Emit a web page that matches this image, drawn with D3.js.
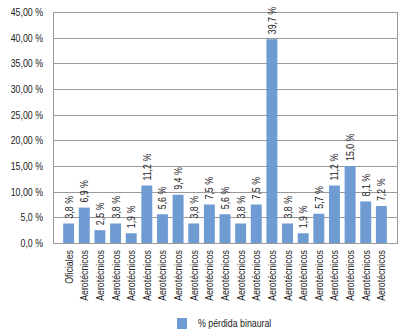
<!DOCTYPE html>
<html>
<head>
<meta charset="utf-8">
<script src="https://cdn.jsdelivr.net/npm/d3@7"></script>
<style>
  body { margin: 0; background: #fff; }
  text { font-family: "Liberation Sans Narrow", "Arial Narrow", "Liberation Sans", sans-serif; fill: #222; }
</style>
</head>
<body>
<div id="chart"></div>
<script>
// categories (x axis)
const categories = ["Oficiales"].concat(d3.range(20).map(() => "Aerotécnicos"));

// % pérdida binaural per person
const values = [3.8, 6.9, 2.5, 3.8, 1.9, 11.2, 5.6, 9.4, 3.8, 7.5, 5.6,
  3.8, 7.5, 39.7, 3.8, 1.9, 5.7, 11.2, 15.0, 8.1, 7.2];

// y tick values and labels as printed
const yTicks = [0, 5, 10, 15, 20, 25, 30, 35, 40, 45];
const yTickLabels = ["0,0 %", "5,0 %", "10,00 %", "15,00 %", "20,00 %", "25,00 %",
  "30,00 %", "35,00 %", "40,00 %", "45,00 %"];

const seriesName = "% pérdida binaural";

const width = 404,
  height = 335,
  padLeft = 53,
  padRight = 7,
  padTop = 12,
  padBtm = 92;

const barColor = "#6f9bd3";
const gridColor = "#9a9a9a";
// no narrow font installed: squeeze text horizontally
const narrow = 0.8;

const svg = d3.select("#chart")
  .append("svg")
  .attr("width", width)
  .attr("height", height);

const data = categories.map((c, i) => ({ id: i, cat: c, value: values[i] }));

const xScale = d3.scaleBand()
  .domain(data.map(d => d.id))
  .range([padLeft, width - padRight])
  .paddingInner(0.3)
  .paddingOuter(0.65);

const yScale = d3.scaleLinear()
  .domain([0, 45])
  .range([height - padBtm, padTop]);

// gridlines
svg.append("g")
  .attr("class", "grid")
  .selectAll("line")
  .data(yTicks)
  .enter()
  .append("line")
  .attr("x1", padLeft)
  .attr("x2", width - padRight)
  .attr("y1", d => Math.round(yScale(d)) + 0.5)
  .attr("y2", d => Math.round(yScale(d)) + 0.5)
  .style("stroke", gridColor);

// frame
svg.append("rect")
  .attr("x", padLeft + 0.5)
  .attr("y", Math.round(yScale(45)) + 0.5)
  .attr("width", width - padRight - padLeft)
  .attr("height", Math.round(yScale(0)) - Math.round(yScale(45)))
  .style("fill", "none")
  .style("stroke", gridColor);

// y axis labels
svg.append("g")
  .attr("class", "y axis")
  .selectAll("text")
  .data(yTicks)
  .enter()
  .append("text")
  .attr("transform", d => "translate(" + (padLeft - 10) + "," + yScale(d) + ") scale(" + narrow + ",1)")
  .attr("dy", "0.35em")
  .attr("text-anchor", "end")
  .style("font-size", "11px")
  .text((d, i) => yTickLabels[i]);

// bars
svg.append("g")
  .attr("class", "bars")
  .selectAll("rect")
  .data(data)
  .enter()
  .append("rect")
  .attr("x", d => xScale(d.id))
  .attr("y", d => yScale(d.value))
  .attr("width", xScale.bandwidth())
  .attr("height", d => yScale(0) - yScale(d.value))
  .style("fill", barColor);

// value labels, rotated
svg.append("g")
  .attr("class", "values")
  .selectAll("text")
  .data(data)
  .enter()
  .append("text")
  .attr("transform", d => "translate(" + (xScale(d.id) + xScale.bandwidth() / 2 + 4) + "," +
    (yScale(d.value) - 5) + ") rotate(-90) scale(" + narrow + ",1)")
  .attr("text-anchor", "start")
  .style("font-size", "11px")
  .text(d => d3.format(".1f")(d.value).replace(".", ",") + " %");

// category labels, rotated
svg.append("g")
  .attr("class", "x axis")
  .selectAll("text")
  .data(data)
  .enter()
  .append("text")
  .attr("transform", d => "translate(" + (xScale(d.id) + xScale.bandwidth() / 2 + 4) + "," +
    (yScale(0) + 7) + ") rotate(-90) scale(" + narrow + ",1)")
  .attr("text-anchor", "end")
  .style("font-size", "11px")
  .text(d => d.cat);

// legend
const legend = svg.append("g")
  .attr("class", "legend")
  .attr("transform", "translate(177,318)");
legend.append("rect")
  .attr("width", 10)
  .attr("height", 11)
  .style("fill", barColor);
legend.append("text")
  .attr("transform", "translate(21,9) scale(" + narrow + ",1)")
  .style("font-size", "11px")
  .text(seriesName);
</script>
</body>
</html>
